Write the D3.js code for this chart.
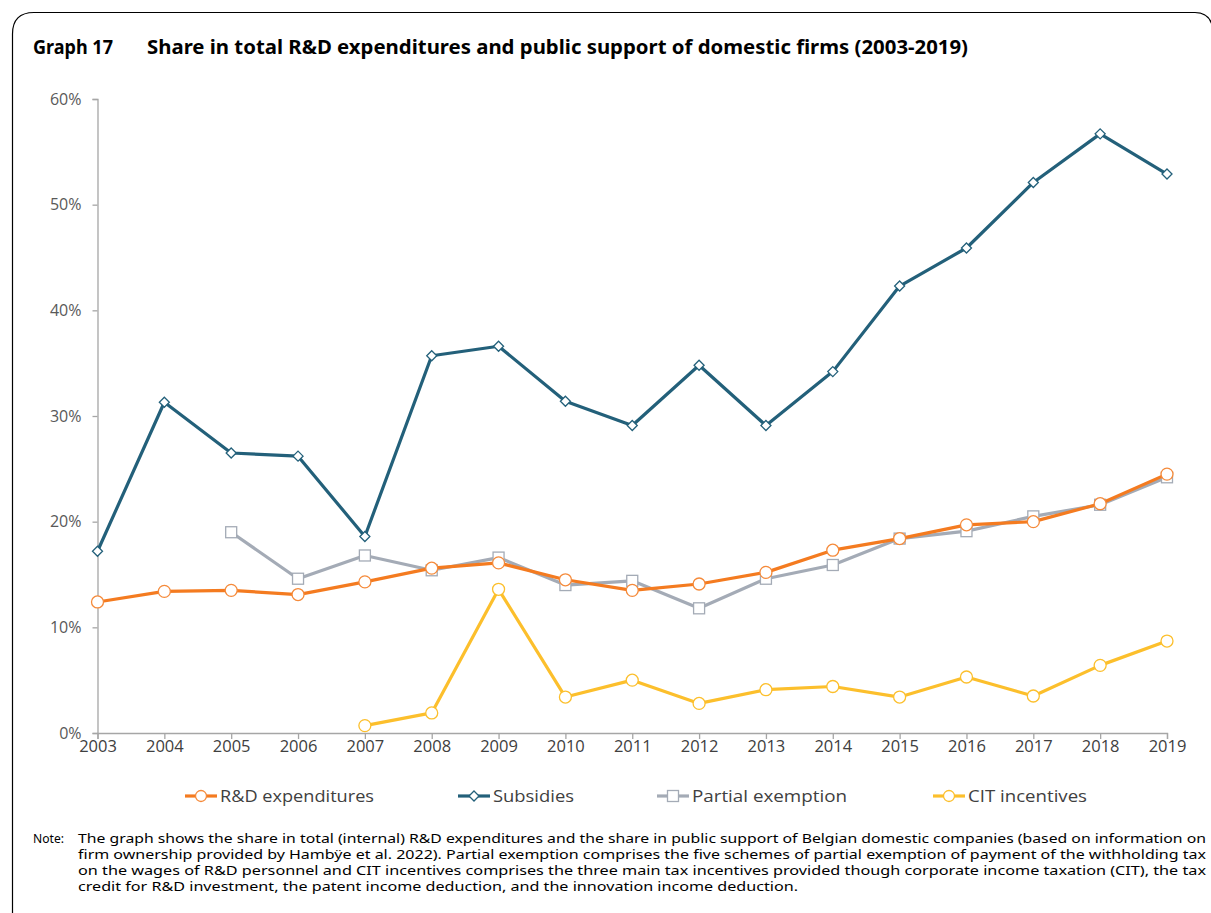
<!DOCTYPE html>
<html><head><meta charset="utf-8">
<script src="https://cdn.jsdelivr.net/npm/d3@7"></script>
<style>
html,body{margin:0;padding:0;background:#fff;}
svg{display:block;}
</style></head>
<body><svg id="c" width="1211" height="913"></svg>
<script>
const years = [2003,2004,2005,2006,2007,2008,2009,2010,2011,2012,2013,2014,2015,2016,2017,2018,2019];
const rdExpenditures = [12.4,13.4,13.5,13.1,14.3,15.6,16.1,14.5,13.5,14.1,15.2,17.3,18.4,19.7,20.0,21.7,24.5];
const subsidies = [17.2,31.3,26.5,26.2,18.6,35.7,36.6,31.4,29.1,34.8,29.1,34.2,42.3,45.9,52.1,56.7,52.9];
const partialExemption = [null,null,19.0,14.6,16.8,15.4,16.6,14.0,14.4,11.8,14.6,15.9,18.4,19.1,20.5,21.6,24.2];
const citIncentives = [null,null,null,null,0.7,1.9,13.6,3.4,5.0,2.8,4.1,4.4,3.4,5.3,3.5,6.4,8.7];
const yTicks = [0,10,20,30,40,50,60];
const seriesNames = ["R&D expenditures","Subsidies","Partial exemption","CIT incentives"];

const svg = d3.select("#c");
const x = d3.scaleLinear().domain([2003,2019]).range([97.5,1167]);
const y = d3.scaleLinear().domain([0,60]).range([733,99]);

// frame
svg.append("path")
  .attr("d","M12.5,913 L12.5,34 Q12.5,12.5 34,12.5 L1195,12.5 Q1211,12.5 1213,30")
  .attr("fill","none").attr("stroke","#000").attr("stroke-width",1.2);

// title
const titleFont = "Noto Sans, DejaVu Sans, sans-serif";
svg.append("text").attr("x",33).attr("y",54)
  .attr("font-family",titleFont).attr("font-weight","bold")
  .attr("font-size",19).attr("fill","#000")
  .attr("textLength",80).attr("lengthAdjust","spacingAndGlyphs")
  .text("Graph 17");
svg.append("text").attr("x",147).attr("y",54)
  .attr("font-family",titleFont).attr("font-weight","bold")
  .attr("font-size",19).attr("fill","#000")
  .attr("textLength",821).attr("lengthAdjust","spacingAndGlyphs")
  .text("Share in total R&D expenditures and public support of domestic firms (2003-2019)");

const axisColor = "#a6a6a6";
const labelFont = "Open Sans, Noto Sans, sans-serif";

// y axis
const yAxis = d3.axisLeft(y).tickValues(yTicks).tickFormat(d=>d+"%").tickSize(5).tickPadding(11);
const gy = svg.append("g").attr("transform","translate(97.5,0)").call(yAxis);
gy.select(".domain").attr("stroke",axisColor).attr("stroke-width",1.3);
gy.selectAll(".tick line").attr("stroke",axisColor).attr("stroke-width",1.3);
gy.selectAll(".tick text").attr("font-family",labelFont).attr("font-size",16).attr("fill","#595959");

// x axis
const xAxis = d3.axisBottom(x).tickValues(years).tickFormat(d3.format("d")).tickSize(6).tickPadding(1);
const gx = svg.append("g").attr("transform","translate(0,733)").call(xAxis);
gx.select(".domain").attr("stroke",axisColor).attr("stroke-width",1.3);
gx.selectAll(".tick line").attr("stroke",axisColor).attr("stroke-width",1.3);
gx.selectAll(".tick text").attr("font-family",labelFont).attr("font-size",16.5).attr("fill","#404040");

const series = [
  {name:seriesNames[0], data:rdExpenditures, color:"#f47b20", mark:"#f58a3a", shape:"circle"},
  {name:seriesNames[1], data:subsidies, color:"#23607a", mark:"#23607a", shape:"diamond"},
  {name:seriesNames[2], data:partialExemption, color:"#a4abb6", mark:"#a4abb6", shape:"square"},
  {name:seriesNames[3], data:citIncentives, color:"#fcbf2c", mark:"#fcbf2c", shape:"circle"}
];
const drawOrder = [3,2,0,1];

function marker(g, shape, cx, cy, color, small){
  if(shape==="circle"){
    g.append("circle").attr("cx",cx).attr("cy",cy).attr("r",small?5.5:6)
      .attr("fill","#fff").attr("stroke",color).attr("stroke-width",1.3);
  } else if(shape==="diamond"){
    const s=5;
    g.append("path").attr("d",`M${cx},${cy-s}L${cx+s},${cy}L${cx},${cy+s}L${cx-s},${cy}Z`)
      .attr("fill","#fff").attr("stroke",color).attr("stroke-width",1.3);
  } else {
    const s=5.5;
    g.append("rect").attr("x",cx-s).attr("y",cy-s).attr("width",2*s).attr("height",2*s)
      .attr("fill","#fff").attr("stroke",color).attr("stroke-width",1.3);
  }
}

const line = d3.line().defined(d=>d[1]!=null).x(d=>x(d[0])).y(d=>y(d[1]));
drawOrder.forEach(i=>{
  const s = series[i];
  const pts = years.map((yr,j)=>[yr,s.data[j]]);
  const g = svg.append("g");
  g.append("path").attr("d",line(pts)).attr("fill","none").attr("stroke",s.color)
    .attr("stroke-width",3.2).attr("stroke-linejoin","round");
  pts.filter(p=>p[1]!=null).forEach(p=>marker(g,s.shape,x(p[0]),y(p[1]),s.mark));
});

// legend
const legX = [185,458,657,933];
const legW = [154,81,155,119];
series.forEach((s,i)=>{
  const g = svg.append("g");
  const lx = legX[i], ly = 796;
  g.append("line").attr("x1",lx).attr("x2",lx+32).attr("y1",ly).attr("y2",ly)
    .attr("stroke",s.color).attr("stroke-width",3.2);
  marker(g,s.shape,lx+16,ly,s.mark,true);
  g.append("text").attr("x",lx+35).attr("y",ly+6).attr("font-family",labelFont)
    .attr("font-size",17).attr("fill","#404040")
    .attr("textLength",legW[i]).attr("lengthAdjust","spacingAndGlyphs").text(s.name);
});

// note
const noteLines = [
  "The graph shows the share in total (internal) R&D expenditures and the share in public support of Belgian domestic companies (based on information on",
  "firm ownership provided by Hambÿe et al. 2022). Partial exemption comprises the five schemes of partial exemption of payment of the withholding tax",
  "on the wages of R&D personnel and CIT incentives comprises the three main tax incentives provided though corporate income taxation (CIT), the tax",
  "credit for R&D investment, the patent income deduction, and the innovation income deduction."
];
const noteW = [1128,1128,1128,720];
const noteFont = "Noto Sans, DejaVu Sans, sans-serif";
svg.append("text").attr("x",33).attr("y",843).attr("font-family",noteFont)
  .attr("font-size",12.5).attr("fill","#000")
  .attr("textLength",31).attr("lengthAdjust","spacingAndGlyphs").text("Note:");
noteLines.forEach((t,i)=>{
  svg.append("text").attr("x",78).attr("y",843+i*16).attr("font-family",noteFont)
    .attr("font-size",12.5).attr("fill","#000")
    .attr("textLength",noteW[i]).attr("lengthAdjust","spacingAndGlyphs").text(t);
});
</script></body></html>
